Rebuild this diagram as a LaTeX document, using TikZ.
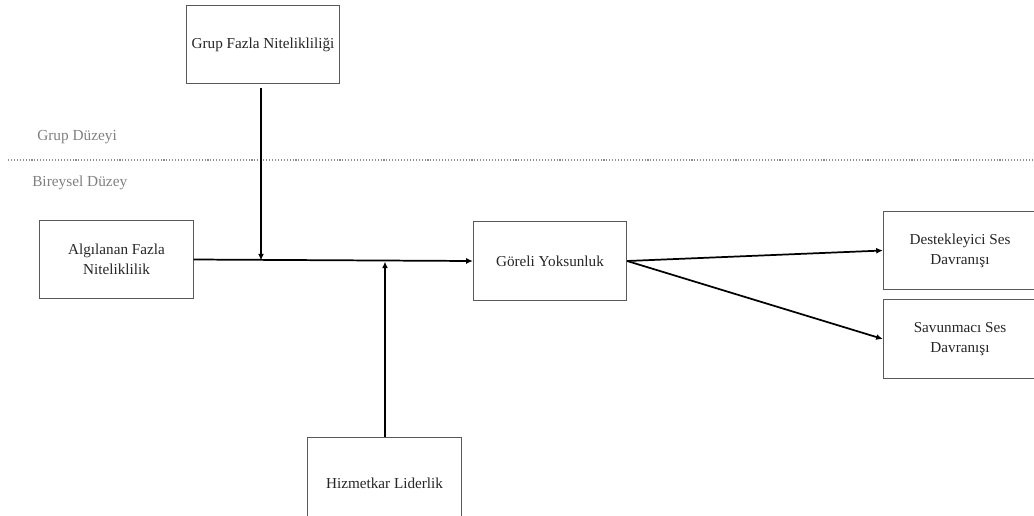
\documentclass[tikz,border=0pt]{standalone}
\usepackage{fontspec}
\setmainfont{Liberation Serif}
\usetikzlibrary{arrows.meta}
\begin{document}
\begin{tikzpicture}[x=0.75pt,y=-0.75pt,
  box/.style={draw=black!65,line width=0.7pt,minimum width=115pt,minimum height=59pt,inner sep=0pt,align=center,font=\fontsize{11.4}{15}\selectfont,text=black!85},
  conn/.style={draw=black,line width=1.3pt,-{Latex[length=5pt,width=4.5pt]}},
  lvl/.style={text=black!50,font=\fontsize{11.5}{14}\selectfont,anchor=west,inner sep=0pt}]
\useasboundingbox (0,0) rectangle (1034,515);
\clip (0,0) rectangle (1034,515);
\node[box] (gfn) at (263,44.5) {Grup Fazla Nitelikliliği};
\node[box] (afn) at (116.5,259.5) {Algılanan Fazla\\Niteliklilik};
\node[box] (gy) at (550,261) {Göreli Yoksunluk};
\node[box] (dsd) at (960,250.5) {Destekleyici Ses\\Davranışı};
\node[box] (ssd) at (960,339) {Savunmacı Ses\\Davranışı};
\node[box,minimum height=69pt] (hl) at (384.5,483) {Hizmetkar Liderlik};
\node[lvl] (grupd) at (37,137) {Grup Düzeyi};
\node[lvl] (bireyd) at (32,183) {Bireysel Düzey};
\coordinate (sepl) at (8,160);
\coordinate (sepr) at (1034,160);
\draw[black!45,line width=0.8pt,dash pattern=on 0.8pt off 1.4pt] (sepl) -- (sepr);
\coordinate (j1) at (261,260.5);
\coordinate (j2) at (385,261.5);
\draw[conn] (afn.east) -- (gy.west);
\draw[conn,shorten <=3pt] (gfn.south -| j1) -- (j1);
\draw[conn] (hl.north -| j2) -- (j2);
\draw[conn] (gy.east) -- (dsd.west);
\draw[conn] (gy.east) -- (ssd.west);
\end{tikzpicture}
\end{document}
